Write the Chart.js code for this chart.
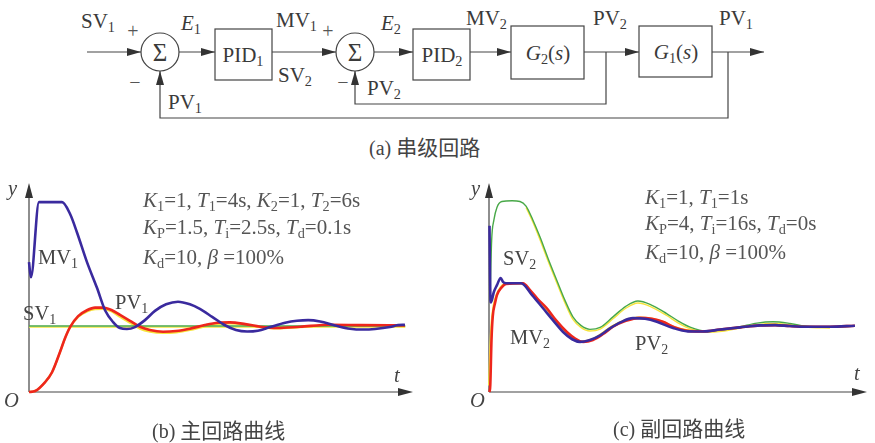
<!DOCTYPE html>
<html>
<head>
<meta charset="utf-8">
<script src="https://cdn.jsdelivr.net/npm/chart.js@4.4.0/dist/chart.umd.min.js"></script>
<style>
    html, body { margin: 0; padding: 0; background: #fff; }
    #page { position: relative; width: 875px; height: 443px; overflow: hidden; }
    .lb {
        position: absolute;
        font-family: "Liberation Serif", "DejaVu Serif", serif;
        color: #3a3a3a;
        font-size: 21px;
        white-space: nowrap;
        line-height: 1;
        transform: translateY(-50%);
    }
    .ct { transform: translate(-50%, -50%); }
    .cl { font-size: 20.5px; color: #444; }
    .pm { font-size: 21px; color: #555; }
    .cap { font-size: 20px; color: #444; }
    .cap .zh { font-family: "Noto Sans CJK SC", sans-serif; font-size: 21px; }
    .sg { font-size: 20px; transform: translate(-50%, -50%); color: #555; }
    i { font-style: italic; }
    sub { font-size: 0.68em; vertical-align: -0.3em; line-height: 0; }
    canvas { position: absolute; }
    svg { position: absolute; left: 0; top: 0; }
</style>
</head>
<body>
<div id="page">
    <svg width="875" height="170">
        <defs>
            <marker id="ah" markerWidth="14" markerHeight="8" refX="14" refY="4" orient="auto" markerUnits="userSpaceOnUse">
                <path d="M0,0 L14,4 L0,8 Z" fill="#333"/>
            </marker>
        </defs>
        <g stroke="#444" stroke-width="1.2" fill="none">
            <line x1="87" y1="52" x2="141" y2="52" marker-end="url(#ah)"/>
            <circle cx="160" cy="52" r="19"/>
            <line x1="179" y1="52" x2="215" y2="52" marker-end="url(#ah)"/>
            <rect x="215" y="29" width="57" height="51"/>
            <line x1="272" y1="52" x2="336" y2="52" marker-end="url(#ah)"/>
            <circle cx="355" cy="52" r="19"/>
            <line x1="374" y1="52" x2="413" y2="52" marker-end="url(#ah)"/>
            <rect x="413" y="29" width="57" height="51"/>
            <line x1="470" y1="52" x2="511" y2="52" marker-end="url(#ah)"/>
            <rect x="511" y="26" width="73" height="53"/>
            <line x1="584" y1="52" x2="639" y2="52" marker-end="url(#ah)"/>
            <rect x="639" y="26" width="73" height="51"/>
            <line x1="712" y1="52" x2="764" y2="52" marker-end="url(#ah)"/>
            <polyline points="606,52 606,104 355,104 355,71" marker-end="url(#ah)"/>
            <polyline points="728,52 728,118 160,118 160,71" marker-end="url(#ah)"/>
        </g>
        <g font-family="Liberation Serif, DejaVu Serif, serif" fill="#3a3a3a" font-size="25" text-anchor="middle">
            <text x="160" y="61">Σ</text>
            <text x="355" y="61">Σ</text>
        </g>
    </svg>

    <!-- block diagram labels -->
    <div class="lb" style="left:81px; top:21px;">SV<sub>1</sub></div>
    <div class="lb sg" style="left:133px; top:31px;">+</div>
    <div class="lb sg" style="left:135px; top:82px;">−</div>
    <div class="lb" style="left:181px; top:23px;"><i>E</i><sub>1</sub></div>
    <div class="lb ct" style="left:243px; top:55px;">PID<sub>1</sub></div>
    <div class="lb" style="left:276px; top:20px;">MV<sub>1</sub></div>
    <div class="lb sg" style="left:328px; top:31px;">+</div>
    <div class="lb" style="left:278px; top:75px;">SV<sub>2</sub></div>
    <div class="lb" style="left:381px; top:23px;"><i>E</i><sub>2</sub></div>
    <div class="lb sg" style="left:343px; top:82px;">−</div>
    <div class="lb" style="left:367px; top:88px;">PV<sub>2</sub></div>
    <div class="lb" style="left:168px; top:102px;">PV<sub>1</sub></div>
    <div class="lb ct" style="left:442px; top:55px;">PID<sub>2</sub></div>
    <div class="lb" style="left:466px; top:18px;">MV<sub>2</sub></div>
    <div class="lb ct" style="left:548px; top:53px;"><i>G</i><sub>2</sub>(<i>s</i>)</div>
    <div class="lb" style="left:593px; top:18px;">PV<sub>2</sub></div>
    <div class="lb ct" style="left:676px; top:52px;"><i>G</i><sub>1</sub>(<i>s</i>)</div>
    <div class="lb" style="left:719px; top:18px;">PV<sub>1</sub></div>
    <div class="lb cap" style="left:369px; top:147px;">(a) <span class="zh">串级回路</span></div>

    <canvas id="chartB" width="440" height="273" style="left:0; top:170px;"></canvas>
    <canvas id="chartC" width="435" height="273" style="left:440px; top:170px;"></canvas>

    <!-- chart (b) labels -->
    <div class="lb cl" style="left:8px; top:188px;"><i>y</i></div>
    <div class="lb cl" style="left:4px; top:400px;"><i>O</i></div>
    <div class="lb cl" style="left:394px; top:375px;"><i>t</i></div>
    <div class="lb cl" style="left:38px; top:257px;">MV<sub>1</sub></div>
    <div class="lb cl" style="left:23px; top:313px;">SV<sub>1</sub></div>
    <div class="lb cl" style="left:115px; top:302px;">PV<sub>1</sub></div>
    <div class="lb pm" style="left:143px; top:200px;"><i>K</i><sub>1</sub>=1, <i>T</i><sub>1</sub>=4s, <i>K</i><sub>2</sub>=1, <i>T</i><sub>2</sub>=6s</div>
    <div class="lb pm" style="left:143px; top:227px;"><i>K</i><sub>P</sub>=1.5, <i>T</i><sub>i</sub>=2.5s, <i>T</i><sub>d</sub>=0.1s</div>
    <div class="lb pm" style="left:143px; top:257px;"><i>K</i><sub>d</sub>=10, <i>β</i> =100%</div>
    <div class="lb cap" style="left:152px; top:430px;">(b) <span class="zh">主回路曲线</span></div>

    <!-- chart (c) labels -->
    <div class="lb cl" style="left:471px; top:188px;"><i>y</i></div>
    <div class="lb cl" style="left:470px; top:400px;"><i>O</i></div>
    <div class="lb cl" style="left:854px; top:373px;"><i>t</i></div>
    <div class="lb cl" style="left:503px; top:258px;">SV<sub>2</sub></div>
    <div class="lb cl" style="left:510px; top:337px;">MV<sub>2</sub></div>
    <div class="lb cl" style="left:635px; top:343px;">PV<sub>2</sub></div>
    <div class="lb pm" style="left:645px; top:197px;"><i>K</i><sub>1</sub>=1, <i>T</i><sub>1</sub>=1s</div>
    <div class="lb pm" style="left:645px; top:223px;"><i>K</i><sub>P</sub>=4, <i>T</i><sub>i</sub>=16s, <i>T</i><sub>d</sub>=0s</div>
    <div class="lb pm" style="left:645px; top:252px;"><i>K</i><sub>d</sub>=10, <i>β</i> =100%</div>
    <div class="lb cap" style="left:613px; top:428px;">(c) <span class="zh">副回路曲线</span></div>
</div>

<script>
// Main loop (b): time and response values (SV1 = 1)
const mv1T = [0, 0.5, 2.6, 8.6, 10.7, 12.5, 15.1, 17.7, 19.8, 21.9, 23.7, 25.5, 27.6, 30.2, 32.8, 35.7, 38.8, 41.9, 44.5, 47.7, 50.8, 53.9, 56.8, 59.6, 62.8, 66.7, 69.8, 72.7, 75.8, 79.7, 83.6, 87.0, 90.1, 94.0, 96.1, 97.9];
const mv1Y = [1.97, 1.74, 2.88, 2.88, 2.70, 2.42, 1.97, 1.58, 1.24, 1.06, 0.97, 0.955, 0.985, 1.09, 1.23, 1.33, 1.37, 1.33, 1.26, 1.14, 1.02, 0.94, 0.917, 0.93, 0.985, 1.05, 1.08, 1.09, 1.07, 1.01, 0.96, 0.947, 0.955, 0.985, 1.015, 1.02];

const pv1T = [0, 1.6, 4.2, 6.0, 8.1, 9.4, 10.7, 12.8, 15.1, 17.2, 19.3, 21.6, 23.7, 26.3, 28.9, 31.5, 34.9, 38.3, 41.9, 45.8, 49.2, 52.3, 56.3, 60.2, 64.6, 70.6, 78.4, 86.2, 97.9];
const pv1Y = [0, 0.015, 0.15, 0.30, 0.61, 0.82, 0.985, 1.15, 1.24, 1.28, 1.28, 1.24, 1.17, 1.08, 0.99, 0.94, 0.914, 0.924, 0.96, 1.015, 1.05, 1.056, 1.03, 0.99, 0.97, 0.99, 1.02, 1.015, 1.01];
const pv1ShadowY = [0, 0.015, 0.15, 0.30, 0.61, 0.82, 0.985, 1.14, 1.22, 1.255, 1.26, 1.22, 1.14, 1.05, 0.96, 0.915, 0.895, 0.905, 0.94, 0.995, 1.03, 1.04, 1.02, 0.985, 0.965, 0.985, 1.01, 1.005, 1.0];

const sv1T = [0, 98];
const sv1Y = [1, 1];
const sv1ShadowY = [0.985, 0.985];

// Inner loop (c)
const mv2T = [0.13, 0.4, 0.53, 1.3, 2.1, 3.1, 3.7, 4.5, 8.5, 11.4, 14.3, 16.9, 19.6, 22.0, 24.1, 26.7, 29.4, 32.0, 34.9, 38.1, 41.3, 44.4, 48.7, 52.6, 56.6, 61.1, 66.4, 71.7, 75.7, 79.6, 84.1, 90.2, 96.8];
const mv2Y = [2.52, 1.39, 1.36, 1.52, 1.62, 1.73, 1.67, 1.65, 1.65, 1.47, 1.27, 1.09, 0.91, 0.80, 0.76, 0.79, 0.86, 0.965, 1.06, 1.12, 1.11, 1.065, 0.97, 0.92, 0.917, 0.947, 0.98, 1.01, 1.015, 1.0, 0.99, 0.99, 1.005];

const sv2T = [0.26, 0.7, 1.3, 2.1, 3.4, 6.1, 8.2, 9.8, 11.6, 13.5, 15.6, 17.9, 20.1, 22.2, 24.3, 26.7, 29.4, 32.8, 36.2, 39.4, 42.6, 47.0, 50.0, 53.2, 57.6, 61.6, 66.4, 70.9, 75.1, 79.6, 83.6, 90.2, 96.8];
const sv2Y = [1.39, 2.30, 2.61, 2.80, 2.89, 2.90, 2.89, 2.82, 2.61, 2.35, 2.03, 1.70, 1.39, 1.14, 1.01, 0.95, 0.98, 1.14, 1.30, 1.38, 1.33, 1.19, 1.08, 0.985, 0.924, 0.94, 0.99, 1.045, 1.065, 1.04, 1.0, 0.985, 1.0];
const sv2ShadowT = [9.8, 11.6, 13.5, 15.6, 17.9, 20.1, 22.2, 24.3, 26.7, 29.4, 32.8, 36.2, 39.4, 42.6, 47.0, 50.0, 53.2, 57.6, 61.6, 66.4, 70.9, 75.1, 79.6, 83.6, 90.2];
const sv2ShadowY = [2.80, 2.58, 2.31, 1.99, 1.66, 1.35, 1.10, 0.98, 0.925, 0.955, 1.11, 1.27, 1.35, 1.30, 1.16, 1.05, 0.96, 0.905, 0.92, 0.97, 1.02, 1.04, 1.02, 0.985, 0.97];

const pv2T = [0.13, 0.34, 0.66, 0.98, 1.6, 2.1, 3.4, 4.5, 9.0, 10.8, 12.9, 15.3, 17.7, 20.6, 22.8, 24.9, 27.5, 30.2, 32.8, 36.2, 39.9, 43.1, 46.0, 49.2, 53.2, 57.1, 61.1, 66.4, 71.7, 75.7, 79.6, 84.1, 90.2, 96.8];
const pv2Y = [0, 0.106, 0.79, 1.14, 1.35, 1.47, 1.59, 1.64, 1.65, 1.55, 1.41, 1.27, 1.09, 0.91, 0.81, 0.76, 0.79, 0.88, 0.99, 1.08, 1.125, 1.11, 1.065, 0.98, 0.924, 0.92, 0.947, 0.98, 1.01, 1.015, 1.0, 0.99, 0.99, 1.005];
const pv2ShadowT = [0.05, 0.3, 0.7, 1.2, 2.0, 3.0, 4.2, 8.7, 10.4, 12.4, 14.8, 17.2, 20.1, 22.3, 24.5, 27.1, 29.8, 32.4, 35.8, 39.5, 42.8, 45.8, 49.0, 53.0, 57.0];
const pv2ShadowY = [0.1, 0.6, 1.05, 1.3, 1.47, 1.58, 1.64, 1.65, 1.55, 1.41, 1.27, 1.09, 0.91, 0.81, 0.765, 0.795, 0.885, 0.99, 1.085, 1.13, 1.115, 1.07, 0.985, 0.93, 0.922];

// Axis ranges (arrow tips)
const tMax = 100;
const yMax = 3.17;

const colors = {
    blue: 'rgb(58, 42, 158)',
    red: 'rgb(238, 38, 28)',
    green: 'rgb(72, 168, 72)',
    yellow: 'rgb(246, 228, 60)',
    axis: '#444'
};

function pts(ts, ys) {
    return ts.map((t, i) => ({ x: t, y: ys[i] }));
}

function line(data, color, width, order) {
    return {
        data: data,
        borderColor: color,
        borderWidth: width,
        pointRadius: 0,
        fill: false,
        clip: false,
        cubicInterpolationMode: 'monotone',
        order: order
    };
}

// Draws the two axes with arrow heads, using the chart's own scales
const arrowAxes = {
    id: 'arrowAxes',
    beforeDatasetsDraw(chart) {
        const { ctx, scales: { x, y } } = chart;
        const x0 = x.getPixelForValue(0), x1 = x.getPixelForValue(tMax);
        const y0 = y.getPixelForValue(0), y1 = y.getPixelForValue(yMax);
        ctx.save();
        ctx.strokeStyle = colors.axis;
        ctx.fillStyle = '#333';
        ctx.lineWidth = 1.2;
        ctx.beginPath();
        ctx.moveTo(x0, y0);
        ctx.lineTo(x1 - 10, y0);
        ctx.moveTo(x0, y0);
        ctx.lineTo(x0, y1 + 10);
        ctx.stroke();
        ctx.beginPath();
        ctx.moveTo(x1, y0);
        ctx.lineTo(x1 - 15, y0 - 4);
        ctx.lineTo(x1 - 15, y0 + 4);
        ctx.closePath();
        ctx.fill();
        ctx.beginPath();
        ctx.moveTo(x0, y1);
        ctx.lineTo(x0 - 4, y1 + 15);
        ctx.lineTo(x0 + 4, y1 + 15);
        ctx.closePath();
        ctx.fill();
        ctx.restore();
    }
};

function makeChart(canvasId, datasets, padding) {
    const ctx = document.getElementById(canvasId).getContext('2d');
    return new Chart(ctx, {
        type: 'line',
        data: { datasets: datasets },
        options: {
            responsive: false,
            animation: false,
            devicePixelRatio: 1,
            layout: { padding: padding },
            scales: {
                x: { type: 'linear', min: 0, max: tMax, display: false },
                y: { type: 'linear', min: 0, max: yMax, display: false }
            },
            plugins: {
                legend: { display: false },
                tooltip: { enabled: false }
            }
        },
        plugins: [arrowAxes]
    });
}

makeChart('chartB', [
    line(pts(mv1T, mv1Y), colors.blue, 2.6, 1),
    line(pts(pv1T, pv1Y), colors.red, 2.6, 2),
    line(pts(sv1T, sv1Y), colors.green, 1.4, 3),
    line(pts(pv1T, pv1ShadowY), colors.yellow, 2.2, 4),
    line(pts(sv1T, sv1ShadowY), colors.yellow, 1.2, 5)
], { left: 29, right: 27, top: 13, bottom: 51 });

makeChart('chartC', [
    line(pts(mv2T, mv2Y), colors.blue, 2.6, 1),
    line(pts(pv2T, pv2Y), colors.red, 2.6, 2),
    line(pts(sv2T, sv2Y), colors.green, 1.4, 3),
    line(pts(pv2ShadowT, pv2ShadowY), colors.yellow, 2.2, 4),
    line(pts(sv2ShadowT, sv2ShadowY), colors.yellow, 1.4, 5)
], { left: 49, right: 8, top: 13, bottom: 51 });
</script>
</body>
</html>
